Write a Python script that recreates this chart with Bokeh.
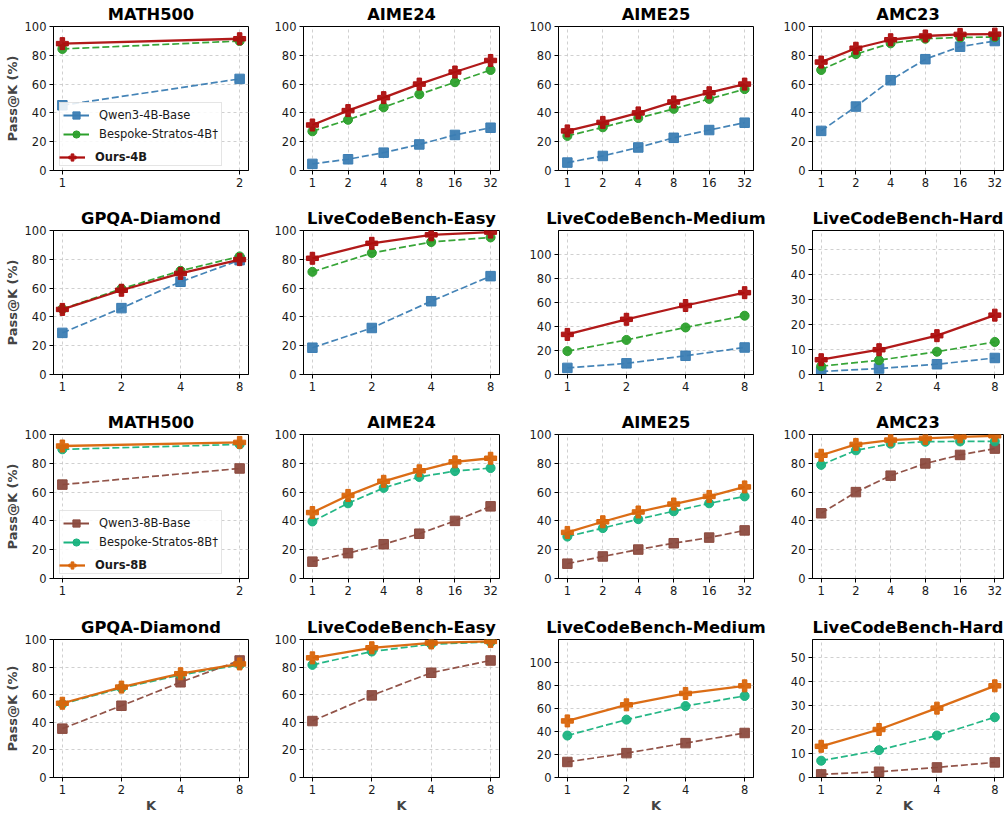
import numpy as np
from bokeh.plotting import figure
from bokeh.layouts import gridplot
from bokeh.models import (FixedTicker, Range1d, Legend, LegendItem, PrintfTickFormatter)
from bokeh.embed import file_html
from bokeh.resources import INLINE

# ---------------- data ----------------
benchmarks = ["MATH500", "AIME24", "AIME25", "AMC23",
              "GPQA-Diamond", "LiveCodeBench-Easy", "LiveCodeBench-Medium", "LiveCodeBench-Hard"]

k_values = {
    "MATH500": [1, 2],
    "AIME24": [1, 2, 4, 8, 16, 32],
    "AIME25": [1, 2, 4, 8, 16, 32],
    "AMC23": [1, 2, 4, 8, 16, 32],
    "GPQA-Diamond": [1, 2, 4, 8],
    "LiveCodeBench-Easy": [1, 2, 4, 8],
    "LiveCodeBench-Medium": [1, 2, 4, 8],
    "LiveCodeBench-Hard": [1, 2, 4, 8],
}

y_max = {"MATH500": 100, "AIME24": 100, "AIME25": 100, "AMC23": 100,
         "GPQA-Diamond": 100, "LiveCodeBench-Easy": 100,
         "LiveCodeBench-Medium": 120, "LiveCodeBench-Hard": 57.5}
y_ticks_100 = [0, 20, 40, 60, 80, 100]
y_ticks_hard = [0, 10, 20, 30, 40, 50]

base4 = {
    "MATH500": [45.3, 63.6],
    "AIME24": [4.6, 7.8, 12.4, 18.1, 24.7, 29.7],
    "AIME25": [5.5, 10.1, 16.0, 22.7, 28.1, 33.2],
    "AMC23": [27.5, 44.4, 62.7, 77.3, 86.0, 89.9],
    "GPQA-Diamond": [28.9, 46.1, 64.4, 79.4],
    "LiveCodeBench-Easy": [18.6, 32.3, 50.9, 68.3],
    "LiveCodeBench-Medium": [5.5, 9.3, 15.6, 22.5],
    "LiveCodeBench-Hard": [1.2, 2.4, 4.1, 6.6],
}
bespoke4 = {
    "MATH500": [84.4, 89.9],
    "AIME24": [27.2, 35.2, 43.9, 52.9, 61.3, 69.8],
    "AIME25": [24.0, 30.0, 36.4, 42.8, 49.7, 56.5],
    "AMC23": [69.8, 80.8, 88.3, 91.5, 92.4, 92.7],
    "GPQA-Diamond": [45.5, 59.5, 72.0, 82.0],
    "LiveCodeBench-Easy": [71.3, 84.4, 92.0, 95.2],
    "LiveCodeBench-Medium": [19.5, 28.8, 39.2, 49.0],
    "LiveCodeBench-Hard": [3.3, 5.7, 9.1, 13.0],
}
ours4 = {
    "MATH500": [88.1, 91.5],
    "AIME24": [31.6, 41.6, 50.6, 60.0, 68.4, 76.4],
    "AIME25": [27.5, 33.4, 40.0, 47.6, 54.0, 60.0],
    "AMC23": [75.3, 84.9, 90.8, 93.4, 94.5, 94.7],
    "GPQA-Diamond": [45.2, 58.5, 70.2, 79.8],
    "LiveCodeBench-Easy": [80.7, 91.1, 97.0, 98.9],
    "LiveCodeBench-Medium": [33.4, 46.0, 57.5, 68.2],
    "LiveCodeBench-Hard": [5.9, 9.9, 15.5, 23.7],
}
base8 = {
    "MATH500": [65.2, 76.4],
    "AIME24": [11.7, 17.6, 23.8, 31.1, 40.0, 50.1],
    "AIME25": [10.3, 15.3, 20.1, 24.5, 28.4, 33.4],
    "AMC23": [45.3, 60.0, 71.4, 79.9, 85.8, 90.2],
    "GPQA-Diamond": [35.4, 52.0, 69.0, 84.8],
    "LiveCodeBench-Easy": [40.9, 59.5, 75.9, 84.8],
    "LiveCodeBench-Medium": [13.5, 21.2, 29.9, 38.7],
    "LiveCodeBench-Hard": [1.3, 2.4, 4.2, 6.3],
}
bespoke8 = {
    "MATH500": [89.7, 93.1],
    "AIME24": [39.6, 52.2, 62.9, 70.5, 74.6, 76.7],
    "AIME25": [29.1, 35.0, 41.2, 46.7, 52.2, 57.0],
    "AMC23": [78.9, 89.0, 93.6, 95.0, 95.2, 95.2],
    "GPQA-Diamond": [53.3, 64.8, 74.3, 81.6],
    "LiveCodeBench-Easy": [81.6, 91.3, 96.6, 98.2],
    "LiveCodeBench-Medium": [36.5, 50.3, 62.1, 70.9],
    "LiveCodeBench-Hard": [7.0, 11.4, 17.5, 25.1],
}
ours8 = {
    "MATH500": [92.0, 94.5],
    "AIME24": [45.8, 57.7, 67.5, 74.8, 81.0, 83.5],
    "AIME25": [32.0, 39.4, 46.2, 51.7, 57.0, 63.6],
    "AMC23": [85.6, 93.1, 96.1, 97.3, 98.4, 99.1],
    "GPQA-Diamond": [53.8, 65.5, 75.2, 82.3],
    "LiveCodeBench-Easy": [86.7, 94.0, 97.5, 98.6],
    "LiveCodeBench-Medium": [49.2, 63.2, 73.1, 79.7],
    "LiveCodeBench-Hard": [13.0, 20.0, 28.9, 38.2],
}

labels4 = ["Qwen3-4B-Base", "Bespoke-Stratos-4B\u2020", "Ours-4B"]
labels8 = ["Qwen3-8B-Base", "Bespoke-Stratos-8B\u2020", "Ours-8B"]
colors4 = ["#3b7db3", "#2ca02c", "#ad0e0e"]
colors8 = ["#8c4b3f", "#19b37f", "#d9650a"]

# ---------------- layout ----------------
FONT = "DejaVu Sans"
col_left = [53, 45, 45, 41]
col_right = [10, 14, 18, 5]
col_frame = [195, 196, 195, 191]
row_top = [24, 24, 24, 24]
row_frame = [146, 146, 146, 144]
row_bottom = [34, 34, 35, 34]


def style_axes(p, ks, yticks, show_ylabel, show_xlabel):
    p.xaxis.ticker = FixedTicker(ticks=ks)
    p.xaxis.formatter = PrintfTickFormatter(format="%d")
    p.yaxis.ticker = FixedTicker(ticks=yticks)
    for ax in (p.xaxis, p.yaxis):
        ax.major_label_text_font = FONT
        ax.major_label_text_font_size = "11.5px"
        ax.major_label_text_color = "#1a1a1a"
        ax.major_tick_out = 4
        ax.major_tick_in = 0
        ax.major_tick_line_color = "black"
        ax.minor_tick_line_color = None
        ax.axis_line_color = "black"
        ax.axis_line_width = 1
        ax.major_label_standoff = 3
    for g in (p.xgrid, p.ygrid):
        g.grid_line_color = "#c4c4c4"
        g.grid_line_dash = "3 3"
        g.grid_line_width = 0.8
    if show_ylabel:
        p.yaxis.axis_label = "Pass@K (%)"
        p.yaxis.axis_label_text_font = FONT
        p.yaxis.axis_label_text_font_style = "bold"
        p.yaxis.axis_label_text_font_size = "13px"
        p.yaxis.axis_label_standoff = 2
    if show_xlabel:
        p.xaxis.axis_label = "K"
        p.xaxis.axis_label_text_font = FONT
        p.xaxis.axis_label_text_font_style = "bold"
        p.xaxis.axis_label_text_font_size = "13px"
        p.xaxis.axis_label_standoff = 1


def legend_kwargs():
    return dict(padding=3, margin=0, spacing=1, glyph_width=26, glyph_height=18,
                label_height=18, label_standoff=10, label_text_font=FONT,
                label_text_font_size="11.5px", label_text_color="#1a1a1a")


def make_panel(r, c, name, models, labels, colors, with_legend):
    ks = k_values[name]
    n = np.log2(max(ks))
    lo, hi = 2 ** (-0.05 * n), 2 ** (1.05 * n)
    width = col_left[c] + col_frame[c] + col_right[c]
    height = row_top[r] + row_frame[r] + row_bottom[r]
    p = figure(width=width, height=height, x_axis_type="log",
               x_range=Range1d(lo, hi), y_range=Range1d(0, y_max[name]),
               output_backend="svg", toolbar_location=None,
               min_border_left=col_left[c], min_border_right=col_right[c],
               min_border_top=row_top[r], min_border_bottom=row_bottom[r],
               background_fill_color="white", border_fill_color="white")
    p.title.text = name
    p.title.align = "center"
    p.title.text_font = FONT
    p.title.text_font_size = "16.3px"
    p.title.text_font_style = "bold"
    p.title.text_color = "black"
    p.title.standoff = 5
    p.outline_line_color = "black"
    p.outline_line_width = 1
    p.outline_line_alpha = 1

    yt = y_ticks_hard if name == "LiveCodeBench-Hard" else y_ticks_100
    style_axes(p, ks, yt, c == 0, r == 3)

    markers = ["square", "circle", "plus"]
    msizes = [9.5, 9, 12]
    entries = []
    for i, (vals, col) in enumerate(zip(models, colors)):
        y = vals[name]
        if i < 2:
            p.line(ks, y, line_color=col, line_width=1.7, line_dash="7 3", line_alpha=0.95)
        else:
            p.line(ks, y, line_color=col, line_width=2.3, line_alpha=0.95)
        sc = p.scatter(ks, y, marker=markers[i], size=msizes[i], fill_color=col,
                       line_color=col, fill_alpha=0.95)
        if with_legend:
            blank = [float("nan")] * len(ks)
            proxy = p.line(ks, blank, line_color=col, line_width=2.0 if i < 2 else 2.3)
            entries.append((labels[i], proxy, sc))

    if with_legend:
        blank = [float("nan")] * len(ks)
        ghost = p.line(ks, blank, line_alpha=0)
        items_a = [LegendItem(label=entries[0][0], renderers=[entries[0][1], entries[0][2]]),
                   LegendItem(label=entries[1][0], renderers=[entries[1][1], entries[1][2]]),
                   LegendItem(label=" ", renderers=[ghost])]
        lg_a = Legend(items=items_a, location=(6, 4),
                      background_fill_color="white", background_fill_alpha=0.85,
                      border_line_color="#cccccc", border_line_width=1,
                      **legend_kwargs())
        p.add_layout(lg_a)
        items_b = [LegendItem(label=entries[2][0], renderers=[entries[2][1], entries[2][2]])]
        lg_b = Legend(items=items_b, location=(6, 4),
                      background_fill_alpha=0, border_line_color=None,
                      label_text_font_style="bold", **legend_kwargs())
        p.add_layout(lg_b)
    return p


grid_rows = []
for r in range(4):
    size_models = (base4, bespoke4, ours4) if r < 2 else (base8, bespoke8, ours8)
    labels = labels4 if r < 2 else labels8
    colors = colors4 if r < 2 else colors8
    names = benchmarks[:4] if r % 2 == 0 else benchmarks[4:]
    row_figs = []
    for c, name in enumerate(names):
        row_figs.append(make_panel(r, c, name, size_models, labels, colors,
                                   with_legend=(c == 0 and r % 2 == 0)))
    grid_rows.append(row_figs)

grid = gridplot(grid_rows, toolbar_location=None)

open("out.html", "w").write(file_html(grid, INLINE))
